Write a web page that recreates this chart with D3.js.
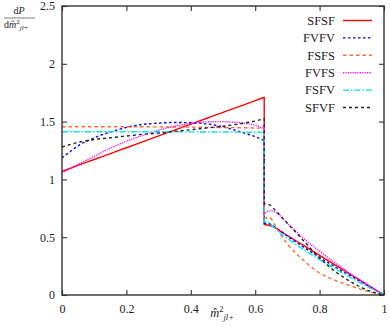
<!DOCTYPE html>
<html>
<head>
<meta charset="utf-8">
<script src="https://cdn.jsdelivr.net/npm/d3@7"></script>
<style>
  html, body { margin: 0; padding: 0; background: #fff; }
  svg { display: block; }
  text { font-family: "Liberation Serif", "DejaVu Serif", serif; fill: #222; }
</style>
</head>
<body>
<svg id="chart" width="390" height="327"></svg>
<script>
// ---- data ----
const seriesNames = ["SFSF", "FVFV", "FSFS", "FVFS", "FSFV", "SFVF"];
const preX  = [0, 0.05, 0.1, 0.15, 0.2, 0.25, 0.3, 0.35, 0.4, 0.45, 0.5, 0.55, 0.6, 0.628];
const postX = [0.628, 0.645, 0.66, 0.68, 0.7, 0.72, 0.75, 0.8, 0.85, 0.9, 0.95, 1];

const sfsfPre  = [1.07, 1.121, 1.172, 1.223, 1.274, 1.325, 1.376, 1.427, 1.478, 1.529, 1.58, 1.63, 1.681, 1.71];
const sfsfPost = [0.61, 0.60, 0.585, 0.55, 0.514, 0.48, 0.43, 0.343, 0.257, 0.171, 0.086, 0];

const fvfvPre  = [1.185, 1.29, 1.36, 1.41, 1.45, 1.475, 1.487, 1.492, 1.49, 1.48, 1.455, 1.415, 1.37, 1.335];
const fvfvPost = [0.62, 0.615, 0.59, 0.55, 0.51, 0.47, 0.415, 0.325, 0.24, 0.16, 0.08, 0];

const fsfsPre  = [1.455, 1.455, 1.455, 1.455, 1.455, 1.455, 1.454, 1.453, 1.452, 1.45, 1.449, 1.447, 1.445, 1.443];
const fsfsPost = [0.66, 0.67, 0.61, 0.52, 0.44, 0.38, 0.30, 0.19, 0.125, 0.075, 0.03, 0];

const fvfsPre  = [1.055, 1.13, 1.2, 1.27, 1.33, 1.38, 1.425, 1.46, 1.485, 1.498, 1.5, 1.49, 1.47, 1.44];
const fvfsPost = [0.70, 0.73, 0.72, 0.68, 0.62, 0.57, 0.49, 0.38, 0.275, 0.175, 0.085, 0];

const fsfvPre  = [1.412, 1.412, 1.412, 1.412, 1.412, 1.412, 1.412, 1.411, 1.411, 1.41, 1.41, 1.409, 1.408, 1.407];
const fsfvPost = [0.635, 0.62, 0.58, 0.53, 0.49, 0.45, 0.395, 0.305, 0.225, 0.145, 0.07, 0];

const sfvfPre  = [1.28, 1.32, 1.345, 1.36, 1.375, 1.39, 1.40, 1.415, 1.43, 1.445, 1.46, 1.48, 1.505, 1.525];
const sfvfPost = [0.79, 0.78, 0.74, 0.68, 0.62, 0.56, 0.47, 0.32, 0.2, 0.11, 0.04, 0];

const xTicks = [0, 0.2, 0.4, 0.6, 0.8, 1];
const xTickLabels = ["0", "0.2", "0.4", "0.6", "0.8", "1"];
const yTicks = [0, 0.5, 1, 1.5, 2, 2.5];
const yTickLabels = ["0", "0.5", "1", "1.5", "2", "2.5"];

// ---- styles ----
const styles = {
  SFSF: { color: "#ff0000", dash: null, width: 1.4 },
  FVFV: { color: "#0000ff", dash: "2.5,2.5", width: 1.4 },
  FSFS: { color: "#ff6a30", dash: "3.5,3", width: 1.4 },
  FVFS: { color: "#ff00ff", dash: "1.2,1.2", width: 1.4 },
  FSFV: { color: "#00e5ee", dash: "6,2,1.5,2", width: 1.4 },
  SFVF: { color: "#222222", dash: "3,3", width: 1.4 }
};

const preVals  = { SFSF: sfsfPre, FVFV: fvfvPre, FSFS: fsfsPre, FVFS: fvfsPre, FSFV: fsfvPre, SFVF: sfvfPre };
const postVals = { SFSF: sfsfPost, FVFV: fvfvPost, FSFS: fsfsPost, FVFS: fvfsPost, FSFV: fsfvPost, SFVF: sfvfPost };

// ---- layout ----
const W = 390, H = 327;
const m = { left: 62, right: 6, top: 6, bottom: 32 };
const iw = W - m.left - m.right, ih = H - m.top - m.bottom;

const svg = d3.select("#chart");
const g = svg.append("g").attr("transform", `translate(${m.left},${m.top})`);

const x = d3.scaleLinear().domain([0, 1]).range([0, iw]);
const y = d3.scaleLinear().domain([0, 2.5]).range([ih, 0]);

svg.append("defs").append("clipPath").attr("id", "clip")
  .append("rect").attr("x", 0).attr("y", 0).attr("width", iw).attr("height", ih);

// axes with inward ticks on all four sides
const fs = 12;
const axB = g.append("g").attr("transform", `translate(0,${ih})`)
  .call(d3.axisBottom(x).tickValues(xTicks).tickFormat((d, i) => xTickLabels[i]).tickSizeInner(-5).tickSizeOuter(0).tickPadding(9));
const axT = g.append("g")
  .call(d3.axisTop(x).tickValues(xTicks).tickFormat("").tickSizeInner(-5).tickSizeOuter(0));
const axL = g.append("g")
  .call(d3.axisLeft(y).tickValues(yTicks).tickFormat((d, i) => yTickLabels[i]).tickSizeInner(-5).tickSizeOuter(0).tickPadding(7));
const axR = g.append("g").attr("transform", `translate(${iw},0)`)
  .call(d3.axisRight(y).tickValues(yTicks).tickFormat("").tickSizeInner(-5).tickSizeOuter(0));
[axB, axT, axL, axR].forEach(a => {
  a.select(".domain").remove();
  a.selectAll(".tick line").attr("stroke", "#333").attr("stroke-width", 1.1);
  a.selectAll(".tick text").attr("font-size", fs).attr("fill", "#222")
    .style("font-family", "'Liberation Serif', 'DejaVu Serif', serif");
});

// series lines
const line = d3.line().x(d => x(d[0])).y(d => y(d[1])).curve(d3.curveMonotoneX);
const plotG = g.append("g").attr("clip-path", "url(#clip)");
seriesNames.forEach(name => {
  const pre = preX.map((xv, i) => [xv, preVals[name][i]]);
  const post = postX.map((xv, i) => [xv, postVals[name][i]]);
  const d = line(pre) + line(post).replace(/^M/, "L");
  const s = styles[name];
  plotG.append("path")
    .attr("d", d)
    .attr("fill", "none")
    .attr("stroke", s.color)
    .attr("stroke-width", s.width)
    .attr("stroke-dasharray", s.dash)
    .attr("stroke-linejoin", "round");
});

// frame
g.append("rect").attr("x", 0).attr("y", 0).attr("width", iw).attr("height", ih)
  .attr("fill", "none").attr("stroke", "#333").attr("stroke-width", 1.4);

// legend
const legX = 335 - m.left, legY0 = 20.5 - m.top, legDy = 17.4;
const leg = g.append("g");
seriesNames.forEach((name, i) => {
  const yy = legY0 + i * legDy;
  const s = styles[name];
  leg.append("text").attr("x", legX).attr("y", yy).attr("dy", "0.35em")
    .attr("text-anchor", "end").attr("font-size", 12.5).text(name);
  leg.append("line").attr("x1", legX + 8).attr("x2", legX + 37).attr("y1", yy).attr("y2", yy)
    .attr("stroke", s.color).attr("stroke-width", s.width).attr("stroke-dasharray", s.dash);
});

// x-axis label: m̂²_{jl+}
const xl = svg.append("text").attr("x", 222).attr("y", 317).attr("text-anchor", "middle").attr("font-size", 12.5);
xl.append("tspan").attr("font-style", "italic").text("m\u0302");
xl.append("tspan").attr("font-size", 8.5).attr("dy", -5).text("2");
xl.append("tspan").attr("font-size", 8.5).attr("font-style", "italic").attr("dx", 0).attr("dy", 8).text("jl+");

// y-axis label: dP / d m̂²_{jl+}
const yl = svg.append("g");
const num = yl.append("text").attr("x", 19).attr("y", 14).attr("text-anchor", "middle").attr("font-size", 10);
num.append("tspan").text("d");
num.append("tspan").attr("font-style", "italic").text("P");
yl.append("line").attr("x1", 4).attr("x2", 35).attr("y1", 18).attr("y2", 18).attr("stroke", "#222").attr("stroke-width", 0.6);
const den = yl.append("text").attr("x", 4).attr("y", 28).attr("font-size", 10);
den.append("tspan").text("d");
den.append("tspan").attr("font-style", "italic").text("m\u0302");
den.append("tspan").attr("font-size", 7).attr("dy", -4).text("2");
den.append("tspan").attr("font-size", 7).attr("font-style", "italic").attr("dx", 0).attr("dy", 6).text("jl+");
</script>
</body>
</html>
